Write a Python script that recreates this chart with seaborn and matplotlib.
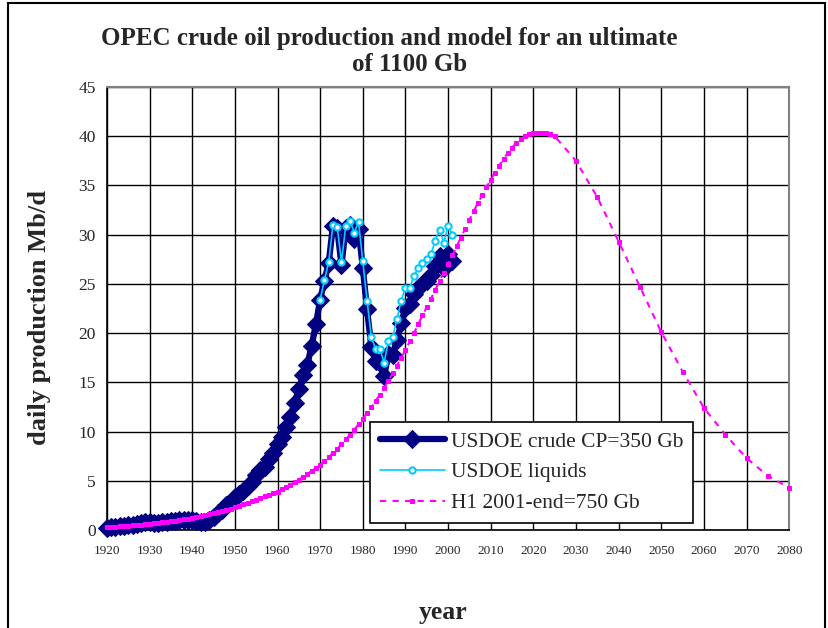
import numpy as np
import pandas as pd
import matplotlib
matplotlib.use('Agg')
import matplotlib.pyplot as plt
import seaborn as sns
from matplotlib.patches import Rectangle

# OPEC crude (USDOE), annual 1920-2001
crude_years = list(range(1920, 2002))
crude_vals = [0.25, 0.30, 0.35, 0.40, 0.45, 0.50, 0.55, 0.60, 0.70, 0.80,
              0.80, 0.75, 0.75, 0.80, 0.85, 0.90, 0.95, 1.00, 1.05, 1.05,
              1.00, 0.90, 0.80, 0.85, 1.00, 1.30, 1.70, 2.00, 2.50, 2.80,
              3.40, 3.70, 4.00, 4.50, 4.90, 5.60, 6.10, 6.40, 7.20, 7.80,
              8.70, 9.40, 10.5, 11.5, 12.9, 14.3, 15.7, 16.8, 18.7, 20.9,
              23.4, 25.3, 27.1, 30.9, 30.7, 26.9, 30.7, 31.0, 29.6, 30.6,
              26.6, 22.4, 18.6, 17.2, 17.0, 15.6, 17.9, 17.8, 19.3, 21.0,
              22.6, 23.0, 24.0, 24.6, 25.0, 25.3, 25.9, 26.8, 27.8, 26.6,
              28.0, 27.3]

# USDOE liquids, 1970-2001
liq_years = list(range(1970, 2002))
liq_vals = [23.4, 25.4, 27.2, 31.0, 30.8, 27.2, 30.9, 31.4, 30.2, 31.3,
            27.3, 23.3, 19.6, 18.4, 18.4, 17.0, 19.2, 19.6, 21.4, 23.3,
            24.6, 24.6, 25.8, 26.6, 27.1, 27.5, 28.0, 29.4, 30.5, 29.2,
            30.9, 30.0]

# H1 model: annual to 2025, then every 5 years
h1_years = list(range(1920, 2026)) + list(range(2030, 2081, 5))
h1_vals = [0.30, 0.32, 0.35, 0.37, 0.40, 0.43, 0.47, 0.51, 0.55, 0.60,
           0.65, 0.70, 0.75, 0.80, 0.85, 0.90, 0.96, 1.02, 1.08, 1.14,
           1.20, 1.29, 1.38, 1.48, 1.58, 1.69, 1.80, 1.92, 2.04, 2.17,
           2.30, 2.45, 2.60, 2.76, 2.93, 3.10, 3.26, 3.42, 3.58, 3.74,
           3.90, 4.12, 4.35, 4.60, 4.85, 5.10, 5.40, 5.70, 6.00, 6.30,
           6.60, 7.00, 7.40, 7.85, 8.25, 8.70, 9.20, 9.70, 10.2, 10.75,
           11.3, 11.85, 12.45, 13.1, 13.75, 14.45, 15.15, 15.9, 16.7, 17.5,
           18.3, 19.15, 20.0, 20.9, 21.8, 22.65, 23.5, 24.4, 25.3, 26.15,
           27.0, 27.9, 28.8, 29.7, 30.6, 31.5, 32.4, 33.2, 34.0, 34.8,
           35.6, 36.3, 37.0, 37.7, 38.3, 38.85, 39.3, 39.7, 40.0, 40.2,
           40.3, 40.35, 40.35, 40.3, 40.2, 40.0,
           37.5, 33.8, 29.3, 24.7, 20.1, 16.1, 12.4, 9.7, 7.3, 5.5, 4.3]

x_ticks = list(range(1920, 2081, 10))
y_ticks = list(range(0, 46, 5))

sns.set_style('white')
plt.rcParams['font.family'] = ['Liberation Serif', 'DejaVu Serif']

fig = plt.figure(figsize=(8.29, 6.28), dpi=100)
ax = fig.add_axes([0.129, 0.156, 0.823, 0.7055])

sns.lineplot(x=crude_years, y=crude_vals, ax=ax, color='#000080', linewidth=4.5,
             marker='D', markersize=9, markeredgecolor='#000080',
             label='USDOE crude CP=350 Gb', clip_on=False, zorder=3)
sns.lineplot(x=liq_years, y=liq_vals, ax=ax, color='#00CCFF', linewidth=1.2,
             marker='o', markersize=4.5, markerfacecolor='white',
             markeredgecolor='#00CCFF', markeredgewidth=1.5,
             label='USDOE liquids', clip_on=False, zorder=4)
sns.lineplot(x=h1_years, y=h1_vals, ax=ax, color='#FF00FF', linewidth=1.5,
             linestyle=(0, (3, 3)), marker='s', markersize=3.5,
             markeredgecolor='#FF00FF', label='H1 2001-end=750 Gb',
             clip_on=False, zorder=5)

ax.set_xlim(1920, 2080)
ax.set_ylim(0, 45)
ax.set_xticks(x_ticks)
ax.set_yticks(y_ticks)
ax.tick_params(axis='x', labelsize=9.5, direction='out', length=5, width=1, pad=6)
ax.tick_params(axis='y', labelsize=12.5, direction='out', length=5, width=1, pad=3)
ax.grid(True, color='black', linewidth=1)
ax.set_axisbelow(True)
for s in ['left', 'bottom']:
    ax.spines[s].set_color('black')
    ax.spines[s].set_linewidth(1.2)
for s in ['top', 'right']:
    ax.spines[s].set_color('#808080')
    ax.spines[s].set_linewidth(1.5)
ax.set_xlabel('')
ax.set_ylabel('')

leg = ax.legend(loc='lower left', bbox_to_anchor=(0.386, 0.016), fontsize=15.5,
                frameon=True, fancybox=False, framealpha=1, edgecolor='black',
                handlelength=3.0, borderpad=0.45, labelspacing=0.5,
                handletextpad=0.3, borderaxespad=0)
leg.get_frame().set_linewidth(1.2)

fig.text(0.470, 0.938, 'OPEC crude oil production and model for an ultimate',
         ha='center', va='center', fontsize=18, fontweight='bold')
fig.text(0.494, 0.898, 'of 1100 Gb', ha='center', va='center', fontsize=18,
         fontweight='bold')
fig.text(0.048, 0.494, 'daily production Mb/d', ha='center', va='center',
         rotation=90, fontsize=19, fontweight='bold')
fig.text(0.534, 0.025, 'year', ha='center', va='center', fontsize=18.5,
         fontweight='bold')

fig.patches.append(Rectangle((0.0097, -0.02), 0.986, 1.015, transform=fig.transFigure,
                             fill=False, edgecolor='black', linewidth=1.5))

fig.savefig('out.png', dpi=100)
